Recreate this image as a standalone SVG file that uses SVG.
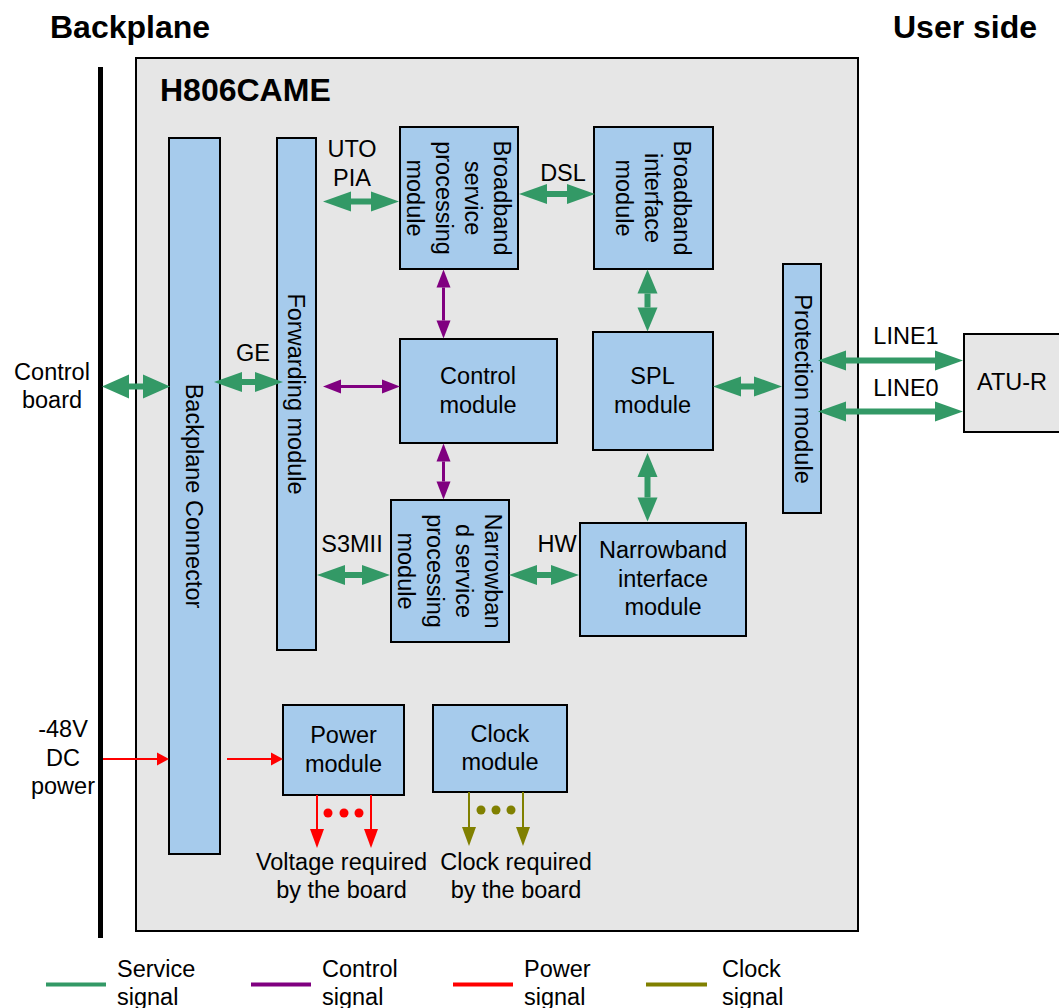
<svg xmlns="http://www.w3.org/2000/svg" width="1059" height="1008" viewBox="0 0 1059 1008">
<style>
text{font-family:"Liberation Sans",Arial,sans-serif;font-size:23.5px;fill:#000}
.t{font-weight:bold;font-size:32px}
.c{text-anchor:middle}
.box{fill:#a6cbec;stroke:#000;stroke-width:2}
.g{stroke:#339966;stroke-width:6;fill:none}
.p{stroke:#800080;stroke-width:3;fill:none}
.r{stroke:#ff0000;stroke-width:2;fill:none}
.o{stroke:#808000;stroke-width:2;fill:none}
</style>
<defs>
<marker id="mG" markerUnits="userSpaceOnUse" orient="auto-start-reverse" markerWidth="30" markerHeight="30" refX="0" refY="0" overflow="visible"><path d="M0,-10 L28,0 L0,10 z" fill="#339966"/></marker>
<marker id="mGV" markerUnits="userSpaceOnUse" orient="auto-start-reverse" markerWidth="30" markerHeight="30" refX="0" refY="0" overflow="visible"><path d="M0,-10 L24,0 L0,10 z" fill="#339966"/></marker>
<marker id="mGL" markerUnits="userSpaceOnUse" orient="auto-start-reverse" markerWidth="30" markerHeight="30" refX="0" refY="0" overflow="visible"><path d="M0,-12 L27,0 L0,12 z" fill="#339966"/></marker>
<marker id="mP" markerUnits="userSpaceOnUse" orient="auto-start-reverse" markerWidth="30" markerHeight="30" refX="0" refY="0" overflow="visible"><path d="M0,-7 L18,0 L0,7 z" fill="#800080"/></marker>
<marker id="mR" markerUnits="userSpaceOnUse" orient="auto" markerWidth="30" markerHeight="30" refX="0" refY="0" overflow="visible"><path d="M0,-6.5 L12,0 L0,6.5 z" fill="#ff0000"/></marker>
<marker id="mRV" markerUnits="userSpaceOnUse" orient="auto" markerWidth="30" markerHeight="30" refX="0" refY="0" overflow="visible"><path d="M0,-7 L19,0 L0,7 z" fill="#ff0000"/></marker>
<marker id="mO" markerUnits="userSpaceOnUse" orient="auto" markerWidth="30" markerHeight="30" refX="0" refY="0" overflow="visible"><path d="M0,-7 L19,0 L0,7 z" fill="#808000"/></marker>
</defs>
<rect width="1059" height="1008" fill="#fff"/>

<g id="titles">
<text class="t" x="50" y="38">Backplane</text>
<text class="t" x="893" y="38">User side</text>
</g>

<g id="backplane-line"><rect x="98" y="67" width="5" height="871" fill="#000"/></g>

<g id="frame">
<rect x="136" y="58" width="722" height="873" fill="#e6e6e6" stroke="#000" stroke-width="2"/>
<text class="t" x="160" y="101">H806CAME</text>
</g>

<g id="backplane-connector">
<rect class="box" x="169" y="138" width="51" height="716"/>
<text class="c" transform="translate(194.5,496) rotate(90)" x="0" y="8.4">Backplane Connector</text>
</g>

<g id="forwarding-module">
<rect class="box" x="277" y="138" width="39" height="512"/>
<text class="c" transform="translate(296.5,394) rotate(90)" x="0" y="8.4">Forwarding module</text>
</g>

<g id="broadband-service">
<rect class="box" x="400" y="127" width="118" height="142"/>
<text class="c" transform="translate(459,198) rotate(90)"><tspan x="0" y="-35.1">Broadband</tspan><tspan x="0" y="-6.1">service</tspan><tspan x="0" y="22.9">processing</tspan><tspan x="0" y="51.9">module</tspan></text>
</g>

<g id="broadband-interface">
<rect class="box" x="594" y="127" width="119" height="142"/>
<text class="c" transform="translate(653.5,198) rotate(90)"><tspan x="0" y="-20.6">Broadband</tspan><tspan x="0" y="8.4">interface</tspan><tspan x="0" y="37.4">module</tspan></text>
</g>

<g id="control-module">
<rect class="box" x="400" y="339" width="157" height="104"/>
<text class="c" x="478" y="384">Control</text>
<text class="c" x="478" y="413">module</text>
</g>

<g id="spl-module">
<rect class="box" x="593" y="332" width="120" height="118"/>
<text class="c" x="652.5" y="384">SPL</text>
<text class="c" x="652.5" y="413">module</text>
</g>

<g id="protection-module">
<rect class="box" x="783" y="264" width="38" height="249"/>
<text class="c" transform="translate(803,389) rotate(90)" x="0" y="8.4">Protection module</text>
</g>

<g id="narrowband-service">
<rect class="box" x="391" y="500" width="118" height="142"/>
<text class="c" transform="translate(450,571) rotate(90)"><tspan x="0" y="-35.1">Narrowban</tspan><tspan x="0" y="-6.1">d service</tspan><tspan x="0" y="22.9">processing</tspan><tspan x="0" y="51.9">module</tspan></text>
</g>

<g id="narrowband-interface">
<rect class="box" x="580" y="523" width="166" height="113"/>
<text class="c" x="663" y="558">Narrowband</text>
<text class="c" x="663" y="587">interface</text>
<text class="c" x="663" y="615">module</text>
</g>

<g id="power-module">
<rect class="box" x="283" y="705" width="121" height="90"/>
<text class="c" x="343.5" y="743">Power</text>
<text class="c" x="343.5" y="772">module</text>
</g>

<g id="clock-module">
<rect class="box" x="433" y="705" width="134" height="87"/>
<text class="c" x="500" y="742">Clock</text>
<text class="c" x="500" y="770">module</text>
</g>

<g id="atu-r">
<rect x="964" y="334" width="100" height="98" fill="#e6e6e6" stroke="#000" stroke-width="2"/>
<text class="c" x="1012" y="390">ATU-R</text>
</g>

<g id="labels">
<text class="c" x="52" y="380">Control</text>
<text class="c" x="52" y="408">board</text>
<text class="c" x="63" y="737">-48V</text>
<text class="c" x="63" y="766">DC</text>
<text class="c" x="63" y="794">power</text>
<text class="c" x="253" y="361">GE</text>
<text class="c" x="352" y="157">UTO</text>
<text class="c" x="352" y="186">PIA</text>
<text class="c" x="563" y="181">DSL</text>
<text class="c" x="352" y="552">S3MII</text>
<text class="c" x="557" y="552">HW</text>
<text class="c" x="906" y="344">LINE1</text>
<text class="c" x="906" y="396">LINE0</text>
<text class="c" x="341.5" y="870">Voltage required</text>
<text class="c" x="341.5" y="898">by the board</text>
<text class="c" x="516" y="870">Clock required</text>
<text class="c" x="516" y="898">by the board</text>
</g>

<g id="connectors">
<path class="g" d="M129,386.5 H143" marker-start="url(#mGL)" marker-end="url(#mGL)"/>
<path class="g" d="M242,382 H255" marker-start="url(#mG)" marker-end="url(#mG)"/>
<path class="p" d="M341,386.5 H382" marker-start="url(#mP)" marker-end="url(#mP)"/>
<path class="g" d="M351,201.5 H371" marker-start="url(#mG)" marker-end="url(#mG)"/>
<path class="g" d="M547,194 H567" marker-start="url(#mG)" marker-end="url(#mG)"/>
<path class="g" d="M647.5,293.5 V307.5" marker-start="url(#mGV)" marker-end="url(#mGV)"/>
<path class="g" d="M647.5,477 V497.5" marker-start="url(#mGV)" marker-end="url(#mGV)"/>
<path class="p" d="M443.5,287.5 V320.5" marker-start="url(#mP)" marker-end="url(#mP)"/>
<path class="p" d="M443.5,461.5 V481.5" marker-start="url(#mP)" marker-end="url(#mP)"/>
<path class="g" d="M345,575 H362" marker-start="url(#mG)" marker-end="url(#mG)"/>
<path class="g" d="M537,575 H551" marker-start="url(#mG)" marker-end="url(#mG)"/>
<path class="g" d="M741,386.5 H754" marker-start="url(#mG)" marker-end="url(#mG)"/>
<path class="g" d="M846,360.5 H935" marker-start="url(#mG)" marker-end="url(#mG)"/>
<path class="g" d="M846,411.5 H935" marker-start="url(#mG)" marker-end="url(#mG)"/>
<path class="r" d="M103,759 H157" marker-end="url(#mR)"/>
<path class="r" d="M227,759 H271" marker-end="url(#mR)"/>
<path class="r" d="M317,795 V829" marker-end="url(#mRV)"/>
<path class="r" d="M371,795 V829" marker-end="url(#mRV)"/>
<path class="o" d="M469,792 V827" marker-end="url(#mO)"/>
<path class="o" d="M523,792 V827" marker-end="url(#mO)"/>
<g fill="#ff0000"><circle cx="328" cy="813" r="4.5"/><circle cx="344" cy="813" r="4.5"/><circle cx="359" cy="813" r="4.5"/></g>
<g fill="#808000"><circle cx="481" cy="810" r="4.5"/><circle cx="496" cy="810" r="4.5"/><circle cx="511" cy="810" r="4.5"/></g>
</g>

<g id="legend">
<line x1="46" y1="984.5" x2="106" y2="984.5" stroke="#339966" stroke-width="4"/>
<text x="117" y="977">Service</text><text x="117" y="1005">signal</text>
<line x1="251" y1="984.5" x2="311" y2="984.5" stroke="#800080" stroke-width="4"/>
<text x="322" y="977">Control</text><text x="322" y="1005">signal</text>
<line x1="453" y1="984.5" x2="513" y2="984.5" stroke="#ff0000" stroke-width="4"/>
<text x="524" y="977">Power</text><text x="524" y="1005">signal</text>
<line x1="646" y1="984.5" x2="707" y2="984.5" stroke="#808000" stroke-width="4"/>
<text x="722" y="977">Clock</text><text x="722" y="1005">signal</text>
</g>
</svg>
